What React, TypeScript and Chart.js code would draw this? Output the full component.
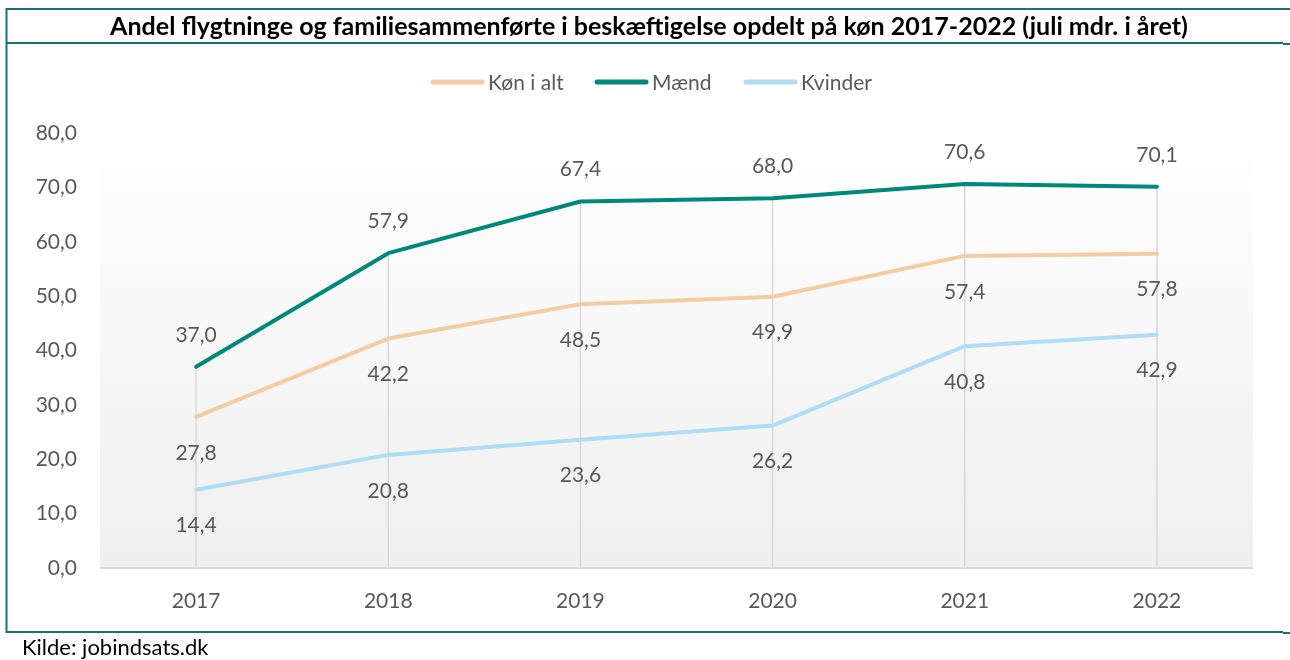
import React, { useEffect, useRef } from "react";
import { Chart, registerables } from "chart.js";

Chart.register(...registerables);

const categories = ["2017", "2018", "2019", "2020", "2021", "2022"];
const konIAlt = [27.8, 42.2, 48.5, 49.9, 57.4, 57.8];
const maend = [37.0, 57.9, 67.4, 68.0, 70.6, 70.1];
const kvinder = [14.4, 20.8, 23.6, 26.2, 40.8, 42.9];
const seriesNames = ["Køn i alt", "Mænd", "Kvinder"];
const seriesColors = ["#F4CCA4", "#00897B", "#AEDDF5"];
const labelSide = ["below", "above", "below"];

const TITLE = "Andel flygtninge og familiesammenførte i beskæftigelse opdelt på køn 2017-2022 (juli mdr. i året)";
const SOURCE = "Kilde: jobindsats.dk";
const FONT = "Lato, 'Open Sans', sans-serif";
const TEXT_COLOR = "#595959";
const BORDER_COLOR = "#17707A";

const fmt = (v: number) => v.toFixed(1).replace(".", ",");

const decorPlugin = {
  id: "decor",
  beforeDraw(chart: any) {
    const { ctx, chartArea } = chart;
    ctx.save();
    ctx.fillStyle = "#ffffff";
    ctx.fillRect(0, 0, chart.width, chart.height);
    const g = ctx.createLinearGradient(0, chartArea.top, 0, chartArea.bottom);
    g.addColorStop(0, "#ffffff");
    g.addColorStop(1, "#efefef");
    ctx.fillStyle = g;
    ctx.fillRect(chartArea.left, chartArea.top, chartArea.right - chartArea.left, chartArea.bottom - chartArea.top);

    // frame
    ctx.strokeStyle = BORDER_COLOR;
    ctx.lineWidth = 2;
    ctx.beginPath();
    ctx.moveTo(6, 9);
    ctx.lineTo(1290, 9);
    ctx.moveTo(6.5, 8);
    ctx.lineTo(6.5, 633);
    ctx.moveTo(6, 43);
    ctx.lineTo(1283, 43);
    ctx.moveTo(6, 632);
    ctx.lineTo(1283, 632);
    ctx.stroke();
    ctx.beginPath();
    ctx.moveTo(1283, 44);
    ctx.lineTo(1290, 44);
    ctx.moveTo(1283, 633);
    ctx.lineTo(1290, 633);
    ctx.stroke();

    // title (fit to the reference's title width)
    ctx.fillStyle = "#000000";
    ctx.font = `bold 20px ${FONT}`;
    const w20 = ctx.measureText(TITLE).width;
    const titleSize = Math.min(26, (20 * 1078) / w20);
    ctx.font = `bold ${titleSize.toFixed(2)}px ${FONT}`;
    ctx.textAlign = "center";
    ctx.textBaseline = "middle";
    ctx.fillText(TITLE, 649, 27);

    // source
    ctx.fillStyle = "#000000";
    ctx.font = `22px ${FONT}`;
    ctx.textAlign = "left";
    ctx.fillText(SOURCE, 22, 648);

    // legend
    const legendX = [431, 595, 744];
    ctx.font = `21px ${FONT}`;
    ctx.lineCap = "round";
    for (let i = 0; i < seriesNames.length; i++) {
      ctx.strokeStyle = seriesColors[i];
      ctx.lineWidth = 5;
      ctx.beginPath();
      ctx.moveTo(legendX[i] + 2, 82);
      ctx.lineTo(legendX[i] + 51, 82);
      ctx.stroke();
      ctx.fillStyle = TEXT_COLOR;
      ctx.fillText(seriesNames[i], legendX[i] + 57, 83);
    }
    ctx.restore();
  },
  beforeDatasetsDraw(chart: any) {
    const { ctx, chartArea, scales } = chart;
    const x = scales.x;
    const y = scales.y;
    ctx.save();
    ctx.strokeStyle = "#d9d9d9";
    ctx.lineWidth = 1.5;
    ctx.beginPath();
    for (let i = 0; i < categories.length; i++) {
      const top = Math.max(konIAlt[i], maend[i], kvinder[i]);
      const px = x.getPixelForValue(i);
      ctx.moveTo(px, y.getPixelForValue(top));
      ctx.lineTo(px, y.getPixelForValue(0));
    }
    ctx.stroke();
    ctx.lineWidth = 2;
    ctx.beginPath();
    ctx.moveTo(chartArea.left, chartArea.bottom);
    ctx.lineTo(chartArea.right, chartArea.bottom);
    ctx.stroke();
    ctx.restore();
  },
  afterDatasetsDraw(chart: any) {
    const { ctx } = chart;
    ctx.save();
    ctx.font = `21px ${FONT}`;
    ctx.fillStyle = TEXT_COLOR;
    ctx.textAlign = "center";
    ctx.textBaseline = "middle";
    chart.data.datasets.forEach((ds: any, di: number) => {
      const meta = chart.getDatasetMeta(di);
      meta.data.forEach((pt: any, i: number) => {
        const off = labelSide[di] === "above" ? -32 : 36;
        ctx.fillText(fmt(ds.data[i]), pt.x, pt.y + off);
      });
    });
    ctx.restore();
  },
};

export default function App() {
  const ref = useRef<HTMLCanvasElement>(null);
  useEffect(() => {
    document.body.style.margin = "0";
    const datasets = [konIAlt, maend, kvinder].map((d, i) => ({
      label: seriesNames[i],
      data: d,
      borderColor: seriesColors[i],
      backgroundColor: seriesColors[i],
      borderWidth: 4,
      pointRadius: 0,
      pointHoverRadius: 0,
      tension: 0,
      borderCapStyle: "round" as const,
      borderJoinStyle: "round" as const,
    }));
    const chart = new Chart(ref.current!, {
      type: "line",
      data: { labels: categories, datasets },
      plugins: [decorPlugin],
      options: {
        animation: false,
        responsive: false,
        events: [],
        layout: { padding: { left: 0, right: 37, top: 133, bottom: 0 } },
        plugins: { legend: { display: false }, title: { display: false }, tooltip: { enabled: false } },
        scales: {
          x: {
            type: "category",
            offset: true,
            grid: { display: false, drawTicks: false },
            border: { display: false },
            ticks: { color: TEXT_COLOR, font: { family: FONT, size: 21 }, padding: 21, maxRotation: 0 },
            afterFit: (s: any) => {
              s.height = 92;
            },
          },
          y: {
            min: 0,
            max: 80,
            grid: { display: false, drawTicks: false },
            border: { display: false },
            ticks: {
              stepSize: 10,
              color: TEXT_COLOR,
              font: { family: FONT, size: 21 },
              padding: 23,
              callback: (v: any) => fmt(Number(v)),
            },
            afterFit: (s: any) => {
              s.width = 100;
            },
          },
        },
      },
    });
    return () => chart.destroy();
  }, []);
  return (
    <div style={{ position: "absolute", left: 0, top: 0, width: 1290, height: 660 }}>
      <canvas ref={ref} width={1290} height={660} style={{ width: 1290, height: 660 }} />
    </div>
  );
}
